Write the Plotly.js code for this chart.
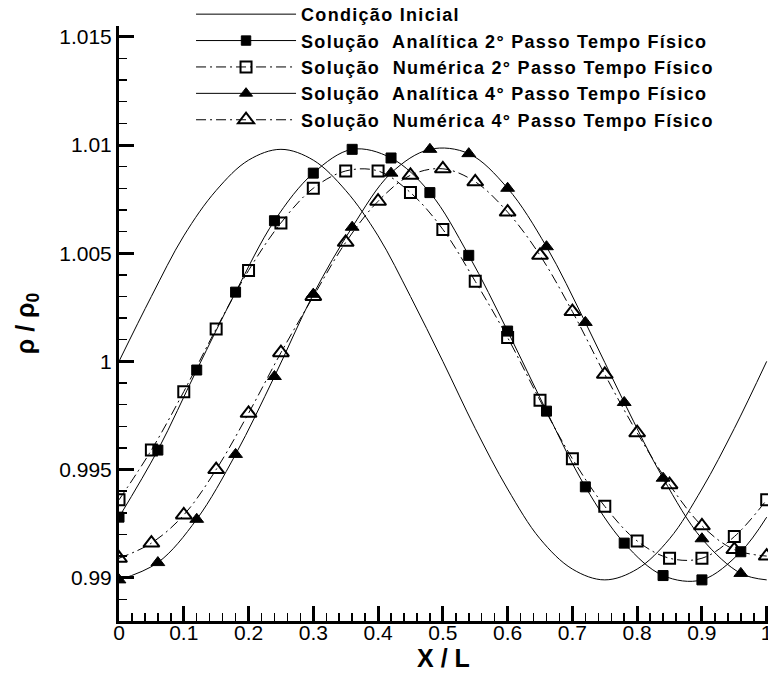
<!DOCTYPE html>
<html><head><meta charset="utf-8">
<script src="https://cdn.plot.ly/plotly-3.0.1.min.js"></script>
<style>html,body{margin:0;padding:0;background:#fff}
.legendtext{letter-spacing:1.3px}</style>
</head><body><div id="chart" style="width:768px;height:682px"></div>
<script>
// Condição Inicial
const xInit = [0,0.05,0.1,0.15,0.2,0.25,0.3,0.35,0.4,0.45,0.5,0.55,0.6,0.65,0.7,0.75,0.8,0.85,0.9,0.95,1.0];
const yInit = [1.0000,1.0030,1.0058,1.0079,1.0093,1.0098,1.0093,1.0079,1.0058,1.0030,1.0000,0.9969,0.9941,0.9918,0.9904,0.9899,0.9904,0.9918,0.9941,0.9969,1.0000];
// Solução Analítica 2° passo (filled squares)
const xAna2 = [0,0.06,0.12,0.18,0.24,0.30,0.36,0.42,0.48,0.54,0.60,0.66,0.72,0.78,0.84,0.90,0.96,1.0];
const yAna2 = [0.9928,0.9959,0.9996,1.0032,1.0065,1.0087,1.0098,1.0094,1.0078,1.0049,1.0014,0.9977,0.9942,0.9916,0.9901,0.9899,0.9912,0.9928];
// Solução Numérica 2° passo (open squares)
const xNum2 = [0,0.05,0.1,0.15,0.2,0.25,0.3,0.35,0.4,0.45,0.5,0.55,0.6,0.65,0.7,0.75,0.8,0.85,0.9,0.95,1.0];
const yNum2 = [0.9936,0.9959,0.9986,1.0015,1.0042,1.0064,1.0080,1.0088,1.0088,1.0078,1.0061,1.0037,1.0011,0.9982,0.9955,0.9933,0.9917,0.9909,0.9909,0.9919,0.9936];
// Solução Analítica 4° passo (filled triangles)
const xAna4 = [0,0.06,0.12,0.18,0.24,0.30,0.36,0.42,0.48,0.54,0.60,0.66,0.72,0.78,0.84,0.90,0.96,1.0];
const yAna4 = [0.9899,0.9907,0.9927,0.9957,0.9993,1.0031,1.0062,1.0087,1.0098,1.0096,1.0080,1.0053,1.0018,0.9981,0.9946,0.9918,0.9902,0.9899];
// Solução Numérica 4° passo (open triangles)
const xNum4 = [0,0.05,0.1,0.15,0.2,0.25,0.3,0.35,0.4,0.45,0.5,0.55,0.6,0.65,0.7,0.75,0.8,0.85,0.9,0.95,1.0];
const yNum4 = [0.9909,0.9916,0.9929,0.9950,0.9976,1.0004,1.0030,1.0055,1.0074,1.0086,1.0089,1.0083,1.0069,1.0049,1.0023,0.9994,0.9967,0.9943,0.9924,0.9913,0.9910];

const names = [
  'Condição Inicial',
  'Solução\u00a0 Analítica 2° Passo Tempo Físico',
  'Solução\u00a0 Numérica 2° Passo Tempo Físico',
  'Solução\u00a0 Analítica 4° Passo Tempo Físico',
  'Solução\u00a0 Numérica 4° Passo Tempo Físico'
];

function sizes(n, s){ const a = new Array(n).fill(s); a[n-1] = 0; return a; }
const dashdot = '10px,4px,2px,4px';

const traces = [
  {x:xInit, y:yInit, name:names[0], mode:'lines', line:{color:'#000', width:1, shape:'spline'}},
  {x:xAna2, y:yAna2, name:names[1], mode:'lines+markers', line:{color:'#000', width:1, shape:'spline'},
   marker:{symbol:'square', color:'#000', opacity:1, size:sizes(xAna2.length,10), line:{width:sizes(xAna2.length,1), color:'#000'}}},
  {x:xNum2, y:yNum2, name:names[2], mode:'lines+markers', line:{color:'#000', width:1, shape:'spline', dash:dashdot},
   marker:{symbol:'square-open', color:'#000', opacity:1, size:11, line:{width:2, color:'#000'}}},
  {x:xAna4, y:yAna4, name:names[3], mode:'lines+markers', line:{color:'#000', width:1, shape:'spline'},
   marker:{symbol:'triangle-up', color:'#000', opacity:1, size:sizes(xAna4.length,12), line:{width:sizes(xAna4.length,1), color:'#000'}}},
  {x:xNum4, y:yNum4, name:names[4], mode:'lines+markers', line:{color:'#000', width:1, shape:'spline', dash:dashdot},
   marker:{symbol:'triangle-up-open', color:'#000', opacity:1, size:14, line:{width:2, color:'#000'}}}
];

const layout = {
  width:768, height:682,
  margin:{l:119, r:0, t:26, b:61, pad:0, autoexpand:false},
  paper_bgcolor:'#fff', plot_bgcolor:'#fff',
  font:{family:'Liberation Sans, Arial, sans-serif', color:'#000'},
  showlegend:true,
  legend:{x:0.111, y:1.0505, xanchor:'left', yanchor:'top', bgcolor:'rgba(0,0,0,0)',
    font:{family:'Liberation Sans, Arial, sans-serif', size:18, color:'#000', weight:'bold'},
    itemwidth:100, tracegroupgap:0},
  xaxis:{range:[0,1.002], showline:true, linewidth:3, linecolor:'#000', mirror:false,
    ticks:'inside', ticklen:15, tickwidth:3, tickcolor:'#000', tick0:0, dtick:0.1,
    tickfont:{size:21}, ticklabeloverflow:'allow', ticklabelstandoff:-9,
    minor:{dtick:0.02, ticks:'inside', ticklen:8, tickwidth:1.5, tickcolor:'#000'},
    showgrid:false, zeroline:false, automargin:false,
    title:{text:'<b>X / L</b>', font:{size:25}, standoff:3}},
  yaxis:{range:[0.988,1.0155], showline:true, linewidth:3, linecolor:'#000', mirror:false,
    ticks:'inside', ticklen:15, tickwidth:3, tickcolor:'#000', tick0:0.99, dtick:0.005,
    tickfont:{size:21},
    minor:{dtick:0.001, ticks:'inside', ticklen:8, tickwidth:1.5, tickcolor:'#000'},
    showgrid:false, zeroline:false, automargin:false,
    title:{text:'<b>ρ / ρ<sub>0</sub></b>', font:{size:25}, standoff:18}}
};

Plotly.newPlot('chart', traces, layout, {displayModeBar:false, staticPlot:true});
</script></body></html>
